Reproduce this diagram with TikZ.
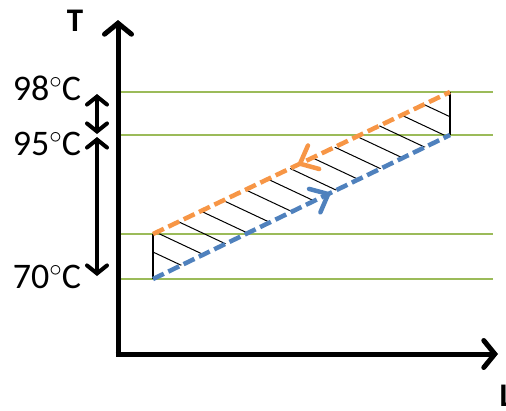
\documentclass[tikz,border=0pt]{standalone}
\usepackage{fontspec}
\setmainfont{Carlito}
\usetikzlibrary{arrows.meta,decorations.markings,calc}
\definecolor{hotline}{HTML}{F79646}
\definecolor{coldline}{HTML}{4F81BD}
\definecolor{levelgreen}{HTML}{9BBB59}
\newcommand\degC{\raisebox{0.33em}{\fontsize{31}{31}\selectfont$\circ$}C}
\begin{document}
\begin{tikzpicture}[x=1pt,y=-1pt,font=\fontsize{36}{40}\selectfont,
  axis/.style={line width=5pt,-{Straight Barb[length=11pt,width=27pt,line cap=round]}},
  level/.style={levelgreen,line width=1.3pt},
  dim/.style={line width=4pt,{Straight Barb[length=8pt,width=20pt,line cap=round]}-{Straight Barb[length=8pt,width=20pt,line cap=round]}},
  chevron/.style={solid,line width=4.5pt,line cap=round,line join=round},
  hot/.style={hotline,line width=4.5pt,dash pattern=on 12pt off 5pt,postaction={decorate},
    decoration={markings,mark=at position 0.495 with {\draw[chevron] (15,13) -- (0,0) -- (15,-13);}}},
  cold/.style={coldline,line width=4.5pt,dash pattern=on 12pt off 5pt,postaction={decorate},
    decoration={markings,mark=at position 0.59 with {\draw[chevron] (-15,13) -- (0,0) -- (-15,-13);}}},
  hatch/.style={line width=1pt},
  edge/.style={line width=1.2pt}]
\useasboundingbox (0,0) rectangle (506,410);
\coordinate (o) at (118,354);
\coordinate (ttip) at (118,20);
\coordinate (ltip) at (498,354);
\foreach \y in {92,135,234,279}
  \draw[level] (120,\y) -- (493,\y);
\coordinate (a) at (153,279);
\coordinate (b) at (153,234);
\coordinate (c) at (450,92);
\coordinate (d) at (450,135);
\begin{scope}
  \clip (a) -- (b) -- (c) -- (d) -- cycle;
  \foreach \k in {0,...,14}{
    \pgfmathsetmacro\t{(22.3*\k-19)/297}
    \draw[hatch] ($(b)!\t!(c)$) -- ++(60,28.2);}
\end{scope}
\draw[edge] (a) -- (b);
\draw[edge] (c) -- (d);
\draw[cold] (a) -- (d);
\draw[hot] (b) -- (c);
\draw[axis] (o) -- (ttip);
\draw[axis] ($(o)+(-2.5,0)$) -- (ltip);
\node[font=\fontsize{33}{36}\bfseries] (T) at (75,21) {T};
\node[font=\fontsize{33}{36}\bfseries,anchor=west] (L) at (496,396) {L};
\node (t98) at (47,88) {98\degC};
\node (t95) at (47,144) {95\degC};
\node (t70) at (47,277) {70\degC};
\coordinate (d98) at (97,94);
\coordinate (d95a) at (97,134);
\coordinate (d95b) at (97,137);
\coordinate (d70) at (97,276);
\draw[dim] (d98) -- (d95a);
\draw[dim] (d95b) -- (d70);
\end{tikzpicture}
\end{document}
